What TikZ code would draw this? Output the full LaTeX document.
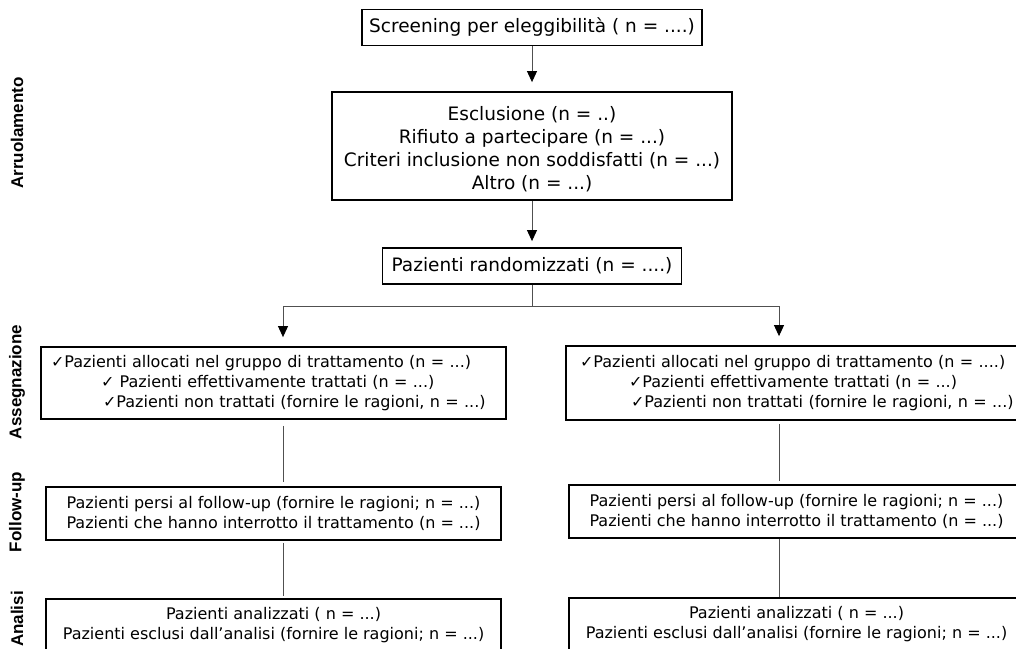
\documentclass[tikz,border=0pt]{standalone}
\usepackage{fontspec}
\setmainfont{DejaVu Sans}
\newfontfamily\labfont{Liberation Sans}
\usetikzlibrary{arrows.meta}
\definecolor{connc}{HTML}{505050}
\begin{document}
\begin{tikzpicture}[x=1pt,y=-1pt,
  box/.style={draw=black, line width=1.8pt, inner xsep=0pt, inner ysep=0pt, align=center},
  t16/.style={font=\fontsize{16}{20}\selectfont},
  t18/.style={font=\fontsize{18.5}{23}\selectfont},
  conn/.style={draw=connc, line width=0.9pt},
  arr/.style={conn, -{Triangle[length=11pt,width=10pt,color=black,fill=black]}},
  side/.style={rotate=90, font=\labfont\bfseries\fontsize{17}{17}\selectfont}]
\useasboundingbox (0,0) rectangle (1016,648);
\clip (0,0) rectangle (1016,648);

% side labels
\node[side] (sA) at (17,133) {Arruolamento};
\node[side] (sB) at (17,382) {Assegnazione};
\node[side] (sC) at (17,512) {Follow-up};
\node[side] (sD) at (17,619) {Analisi};

% top column
\node[box,t18,minimum width=340pt,minimum height=36pt] (scr) at (532,27.5) {Screening per eleggibilità ( n = ....)};
\node[box,t18,minimum width=400pt,minimum height=108pt] (esc) at (532,146)
  {\rule{0pt}{20pt}Esclusione (n = ..)\\Rifiuto a partecipare (n = ...)\\Criteri inclusione non soddisfatti (n = ...)\\Altro (n = ...)};
\node[box,t18,minimum width=299pt,minimum height=36pt] (rand) at (532,266) {Pazienti randomizzati (n = ....)};

% assegnazione
\node[box,t16,align=left,text width=445pt,inner xsep=10pt,minimum height=72pt] (L1) at (273.5,383)
  {✓Pazienti allocati nel gruppo di trattamento (n = ...)\\
   \hspace*{50pt}✓ Pazienti effettivamente trattati (n = ...)\\
   \hspace*{52pt}✓Pazienti non trattati (fornire le ragioni, n = ...)};
\node[box,t16,align=left,text width=437pt,inner xsep=14pt,minimum height=74pt] (R1) at (798.5,383)
  {✓Pazienti allocati nel gruppo di trattamento (n = ....)\\
   \hspace*{49pt}✓Pazienti effettivamente trattati (n = ...)\\
   \hspace*{51pt}✓Pazienti non trattati (fornire le ragioni, n = ...)};

% follow-up
\node[box,t16,minimum width=455pt,minimum height=53pt] (L2) at (273.5,513.5)
  {Pazienti persi al follow-up (fornire le ragioni; n = ...)\\Pazienti che hanno interrotto il trattamento (n = ...)};
\node[box,t16,minimum width=455pt,minimum height=53pt] (R2) at (796.5,511.5)
  {Pazienti persi al follow-up (fornire le ragioni; n = ...)\\Pazienti che hanno interrotto il trattamento (n = ...)};

% analisi
\node[box,t16,minimum width=455pt,minimum height=53pt] (L3) at (273.5,625.5)
  {Pazienti analizzati ( n = ...)\\Pazienti esclusi dall'analisi (fornire le ragioni; n = ...)};
\node[box,t16,minimum width=455pt,minimum height=53pt] (R3) at (796.5,624.5)
  {Pazienti analizzati ( n = ...)\\Pazienti esclusi dall'analisi (fornire le ragioni; n = ...)};

% connectors
\coordinate (jL) at (283,306);
\coordinate (jR) at (779,306);
\draw[arr, shorten >=9pt] (scr.south) -- (esc.north);
\draw[arr, shorten >=6pt] (esc.south) -- (rand.north);
\draw[conn] (rand.south) -- (rand.south |- jL);
\draw[conn] (jL) -- (jR);
\draw[arr, shorten >=9pt] (jL) -- (jL |- L1.north);
\draw[arr, shorten >=9pt] (jR) -- (jR |- R1.north);
\draw[conn, shorten <=6pt, shorten >=4pt] (L1.south -| jL) -- (L2.north -| jL);
\draw[conn, shorten <=3pt, shorten >=3pt] (R1.south -| jR) -- (R2.north -| jR);
\draw[conn, shorten <=2pt, shorten >=2pt] (L2.south -| jL) -- (L3.north -| jL);
\draw[conn] (R2.south -| jR) -- (R3.north -| jR);
\end{tikzpicture}
\end{document}
